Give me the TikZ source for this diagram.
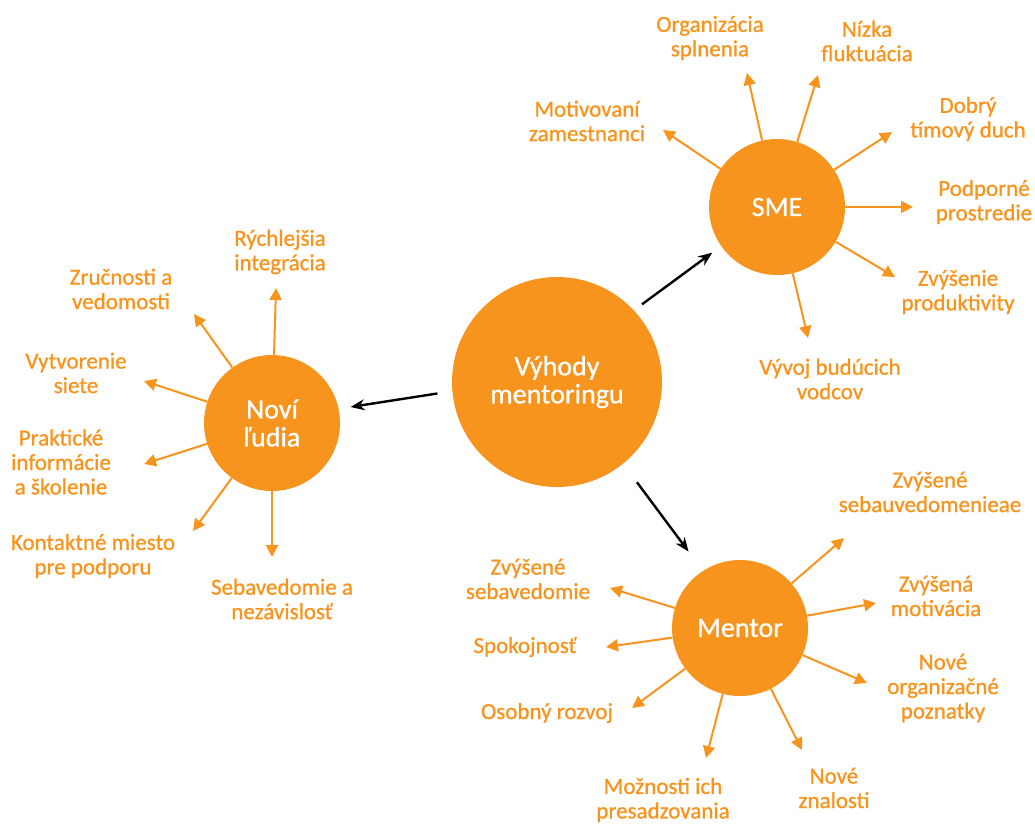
\documentclass[tikz,border=0pt]{standalone}
\usepackage{fontspec}
\setmainfont{Carlito}[FakeBold=0.9]
\usetikzlibrary{arrows.meta}
\definecolor{orng}{RGB}{247,148,29}
\newcommand{\lblfont}{\fontsize{23}{24.5}\selectfont}
\newcommand{\hubfont}{\fontsize{28}{28}\selectfont}
\begin{document}
\begin{tikzpicture}%
	[x=1pt, y=-1pt,
	hub/.style={circle, fill=orng, text=white, inner sep=0pt, minimum size=210pt, align=center, font=\hubfont},
	sub/.style={circle, fill=orng, text=white, inner sep=0pt, minimum size=136pt, align=center, font=\hubfont},
	lbl/.style={text=orng, inner sep=0pt, align=center, font=\lblfont},
	ray/.style={draw=orng, line width=2pt, -{Triangle[length=12pt,width=12pt]}},
	link/.style={draw=black, line width=2.4pt, -{Stealth[length=14pt,width=11pt]}}]
%
\useasboundingbox (0,0) rectangle (1035,823);
%%
%% circles
%%
\node[hub] (hub) at (557,382) {Výhody\\mentoringu};
\node[sub] (sme) at (777,207) {SME};
\node[sub] (novi) at (272,423) {Noví\\ľudia};
\node[sub] (mentor) at (740,628) {Mentor};
%%
%% black arrows
%%
\draw[link, shorten <=10pt, shorten >=11pt] (hub.43) -- (sme.215);
\draw[link, shorten <=15pt, shorten >=12pt] (hub.185) -- (novi.12);
\draw[link, shorten <=23pt, shorten >=24pt] (hub.309) -- (mentor.123);
%%
%% SME
%%
\coordinate (s1) at (663,130);
\coordinate (s2) at (747,73);
\coordinate (s3) at (818,75);
\coordinate (s4) at (892,132);
\coordinate (s5) at (913,207);
\coordinate (s6) at (895,277);
\coordinate (s7) at (808,338);
\foreach \t in {s1,s2,s3,s4,s5,s6,s7}
	\draw[ray] (sme) -- (\t);
\node[lbl] (smeA) at (587,121) {Motivovaní\\zamestnanci};
\node[lbl] (smeB) at (710,38) {Organizácia\\splnenia};
\node[lbl] (smeC) at (867,41) {Nízka\\fluktuácia};
\node[lbl] (smeD) at (968,119) {Dobrý\\tímový duch};
\node[lbl] (smeE) at (984,202) {Podporné\\prostredie};
\node[lbl] (smeF) at (958,292) {Zvýšenie\\produktivity};
\node[lbl] (smeG) at (830,379) {Vývoj budúcich\\vodcov};
%%
%% Noví ľudia
%%
\coordinate (n1) at (276,288);
\coordinate (n2) at (194,314);
\coordinate (n3) at (144,381);
\coordinate (n4) at (144,464);
\coordinate (n5) at (193,531);
\coordinate (n6) at (272,557);
\foreach \t in {n1,n2,n3,n4,n5,n6}
	\draw[ray] (novi) -- (\t);
\node[lbl] (noviA) at (280,252) {Rýchlejšia\\integrácia};
\node[lbl] (noviB) at (121,289) {Zručnosti a\\vedomosti};
\node[lbl] (noviC) at (76,373) {Vytvorenie\\siete};
\node[lbl] (noviD) at (61,462) {Praktické\\informácie\\a školenie};
\node[lbl] (noviE) at (93,556) {Kontaktné miesto\\pre podporu};
\node[lbl] (noviF) at (282,599) {Sebavedomie a\\nezávislosť};
%%
%% Mentor
%%
\coordinate (m1) at (844,538);
\coordinate (m2) at (876,603);
\coordinate (m3) at (867,683);
\coordinate (m4) at (802,750);
\coordinate (m5) at (706,758);
\coordinate (m6) at (632,708);
\coordinate (m7) at (606,647);
\coordinate (m8) at (610,588);
\foreach \t in {m1,m2,m3,m4,m5,m6,m7,m8}
	\draw[ray] (mentor) -- (\t);
\node[lbl] (mentA) at (930,492) {Zvýšené\\sebauvedomenieae};
\node[lbl] (mentB) at (936,596) {Zvýšená\\motivácia};
\node[lbl] (mentC) at (943,688) {Nové\\organizačné\\poznatky};
\node[lbl] (mentD) at (834,788) {Nové\\znalosti};
\node[lbl] (mentE) at (663,800) {Možnosti ich\\presadzovania};
\node[lbl] (mentF) at (547,713) {Osobný rozvoj};
\node[lbl] (mentG) at (525,647) {Spokojnosť};
\node[lbl] (mentH) at (528,579) {Zvýšené\\sebavedomie};
\end{tikzpicture}
\end{document}
